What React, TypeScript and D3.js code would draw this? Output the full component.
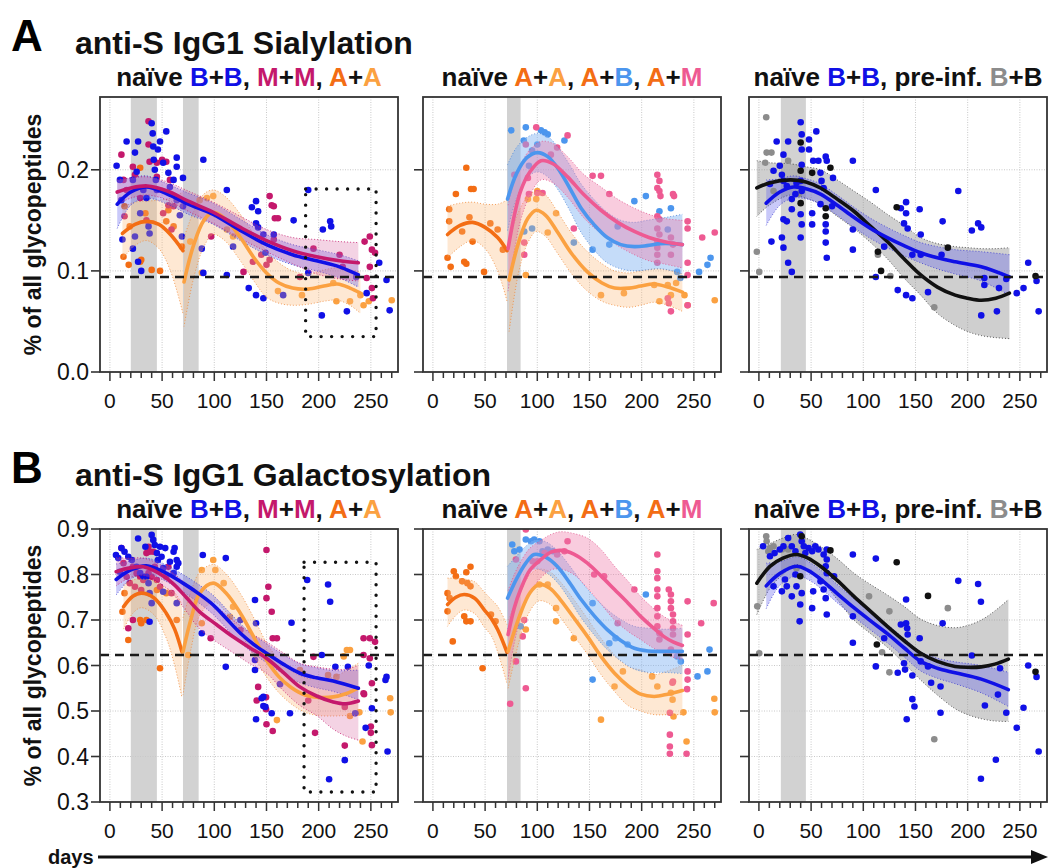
import React from "react";
import * as d3 from "d3";

const FONT = "'Liberation Sans', Arial, Helvetica, sans-serif";

// ---- colours ----
const K = "#111111";
const BLUE = "#1010e6";
const MAG = "#c4186c";
const ORD = "#f36d14";
const ORL = "#fba141";
const LBLUE = "#4c96ee";
const PINK = "#ee5a92";
const GRAY = "#8c8c8c";

// ---- axis ticks ----
const xTicksMajor = [0, 50, 100, 150, 200, 250];
const xTicksMinor = [0, 10, 20, 30, 40, 50, 60, 70, 80, 90, 100, 110, 120, 130, 140, 150, 160, 170, 180, 190, 200, 210, 220, 230, 240, 250, 260, 270];
const yTicksA = [0.0, 0.1, 0.2];
const yTicksB = [0.3, 0.4, 0.5, 0.6, 0.7, 0.8, 0.9];
const refA = 0.094;
const refB = 0.623;

// ---- fits: [day, fit, lower, upper] ----
const A1_BB_fit = [[7, 0.166, 0.142, 0.190], [20, 0.178, 0.165, 0.192], [35, 0.183, 0.172, 0.194], [55, 0.176, 0.166, 0.186], [75, 0.166, 0.156, 0.177], [99, 0.156, 0.146, 0.167], [125, 0.140, 0.130, 0.151], [150, 0.126, 0.116, 0.136], [175, 0.116, 0.106, 0.126], [198, 0.110, 0.100, 0.121], [220, 0.104, 0.093, 0.116], [238, 0.096, 0.084, 0.110]];
const A1_MM_fit = [[7, 0.178, 0.166, 0.190], [20, 0.182, 0.172, 0.192], [36, 0.184, 0.175, 0.193], [55, 0.179, 0.170, 0.188], [75, 0.169, 0.159, 0.179], [99, 0.158, 0.147, 0.168], [125, 0.143, 0.132, 0.154], [150, 0.130, 0.119, 0.141], [175, 0.120, 0.107, 0.133], [198, 0.114, 0.097, 0.131], [220, 0.110, 0.092, 0.129], [238, 0.108, 0.090, 0.128]];
const A1_AA1_fit = [[12, 0.137, 0.112, 0.163], [24, 0.146, 0.125, 0.168], [35, 0.149, 0.130, 0.169], [47, 0.146, 0.122, 0.170], [58, 0.136, 0.100, 0.172], [70, 0.120, 0.058, 0.178]];
const A1_AA2_fit = [[71, 0.089, 0.045, 0.133], [80, 0.125, 0.092, 0.158], [90, 0.150, 0.124, 0.176], [99, 0.158, 0.136, 0.180], [110, 0.152, 0.130, 0.174], [125, 0.133, 0.110, 0.156], [138, 0.113, 0.090, 0.136], [150, 0.098, 0.074, 0.120], [162, 0.088, 0.068, 0.108], [175, 0.083, 0.066, 0.100], [190, 0.082, 0.067, 0.097], [205, 0.085, 0.070, 0.101], [218, 0.087, 0.071, 0.103], [230, 0.083, 0.066, 0.101], [240, 0.078, 0.058, 0.099]];

const A2_AA1_fit = [[14, 0.136, 0.113, 0.164], [26, 0.145, 0.124, 0.167], [38, 0.148, 0.130, 0.168], [50, 0.143, 0.122, 0.166], [62, 0.133, 0.100, 0.166], [71, 0.120, 0.070, 0.170]];
const A2_AA2_fit = [[73, 0.091, 0.040, 0.130], [82, 0.128, 0.098, 0.158], [91, 0.152, 0.128, 0.174], [99, 0.160, 0.139, 0.179], [108, 0.155, 0.134, 0.175], [119, 0.139, 0.118, 0.159], [133, 0.117, 0.097, 0.137], [148, 0.099, 0.080, 0.119], [162, 0.088, 0.070, 0.107], [174, 0.083, 0.066, 0.100], [188, 0.083, 0.064, 0.098], [199, 0.085, 0.066, 0.100], [212, 0.087, 0.069, 0.102], [225, 0.084, 0.066, 0.101], [239, 0.079, 0.060, 0.097]];
const A2_AB_fit = [[71.5, 0.171, 0.140, 0.205], [80, 0.196, 0.172, 0.222], [90, 0.212, 0.192, 0.232], [100, 0.217, 0.198, 0.236], [110, 0.213, 0.193, 0.233], [120, 0.201, 0.180, 0.222], [131, 0.182, 0.160, 0.205], [142, 0.162, 0.138, 0.186], [155, 0.145, 0.120, 0.170], [167, 0.133, 0.108, 0.158], [180, 0.126, 0.102, 0.150], [193, 0.124, 0.100, 0.148], [205, 0.125, 0.101, 0.150], [218, 0.127, 0.102, 0.152], [229, 0.127, 0.100, 0.154], [239, 0.126, 0.097, 0.156]];
const A2_AM_fit = [[72, 0.122, 0.080, 0.165], [78, 0.155, 0.120, 0.190], [84, 0.179, 0.150, 0.205], [93, 0.198, 0.175, 0.220], [103.5, 0.209, 0.190, 0.228], [115, 0.206, 0.187, 0.226], [129, 0.193, 0.173, 0.213], [145, 0.175, 0.152, 0.195], [161, 0.160, 0.137, 0.183], [177, 0.148, 0.125, 0.171], [193, 0.139, 0.116, 0.162], [207, 0.133, 0.110, 0.156], [221, 0.129, 0.107, 0.152], [239, 0.126, 0.103, 0.150]];

const A3_BB_fit = [[7, 0.167, 0.145, 0.190], [20, 0.178, 0.165, 0.191], [33, 0.183, 0.172, 0.194], [46, 0.181, 0.171, 0.191], [59, 0.176, 0.166, 0.186], [75, 0.165, 0.155, 0.175], [91, 0.153, 0.143, 0.163], [107, 0.142, 0.132, 0.152], [123, 0.133, 0.123, 0.143], [139, 0.125, 0.115, 0.135], [155, 0.118, 0.108, 0.128], [171, 0.113, 0.102, 0.124], [188, 0.109, 0.097, 0.121], [213, 0.104, 0.090, 0.119], [240, 0.094, 0.076, 0.116]];
const A3_PRE_fit = [[-2, 0.182, 0.154, 0.209], [10, 0.187, 0.165, 0.207], [30, 0.190, 0.175, 0.206], [45, 0.188, 0.172, 0.203], [59, 0.182, 0.166, 0.200], [75, 0.171, 0.154, 0.190], [91, 0.159, 0.142, 0.179], [107, 0.144, 0.128, 0.168], [123, 0.129, 0.112, 0.156], [139, 0.112, 0.093, 0.145], [155, 0.096, 0.076, 0.133], [171, 0.084, 0.058, 0.127], [188, 0.076, 0.046, 0.124], [200, 0.073, 0.040, 0.123], [213, 0.071, 0.036, 0.122], [227, 0.073, 0.034, 0.122], [240, 0.078, 0.033, 0.123]];

const B1_BB_fit = [[6, 0.789, 0.755, 0.823], [20, 0.810, 0.790, 0.830], [35, 0.819, 0.802, 0.836], [52, 0.805, 0.787, 0.823], [70, 0.781, 0.762, 0.800], [85, 0.758, 0.738, 0.778], [99, 0.733, 0.712, 0.754], [112, 0.702, 0.681, 0.723], [125, 0.671, 0.650, 0.692], [138, 0.646, 0.626, 0.666], [150, 0.627, 0.606, 0.648], [166, 0.603, 0.582, 0.624], [182, 0.583, 0.562, 0.604], [198, 0.573, 0.551, 0.595], [214, 0.566, 0.543, 0.589], [238, 0.550, 0.525, 0.590]];
const B1_MM_fit = [[6, 0.806, 0.775, 0.837], [18, 0.814, 0.792, 0.836], [32, 0.817, 0.798, 0.836], [46, 0.804, 0.784, 0.824], [60, 0.781, 0.758, 0.804], [73, 0.750, 0.720, 0.780], [86, 0.718, 0.680, 0.760], [102, 0.690, 0.652, 0.730], [118, 0.663, 0.628, 0.700], [134, 0.639, 0.604, 0.672], [150, 0.616, 0.583, 0.652], [166, 0.585, 0.545, 0.628], [182, 0.553, 0.512, 0.605], [198, 0.533, 0.490, 0.597], [214, 0.520, 0.460, 0.592], [226, 0.516, 0.445, 0.592], [238, 0.522, 0.436, 0.600]];
const B1_AA1_fit = [[13, 0.729, 0.680, 0.778], [22, 0.752, 0.715, 0.788], [30, 0.759, 0.727, 0.790], [42, 0.749, 0.712, 0.786], [54, 0.715, 0.660, 0.770], [62, 0.680, 0.600, 0.760], [69, 0.630, 0.530, 0.735]];
const B1_AA2_fit = [[70, 0.630, 0.535, 0.705], [78, 0.705, 0.640, 0.765], [86, 0.759, 0.710, 0.805], [99, 0.781, 0.740, 0.822], [111, 0.760, 0.718, 0.802], [125, 0.715, 0.672, 0.758], [138, 0.662, 0.620, 0.704], [150, 0.612, 0.575, 0.650], [162, 0.575, 0.540, 0.612], [174, 0.551, 0.515, 0.588], [187, 0.535, 0.497, 0.573], [200, 0.530, 0.490, 0.570], [214, 0.531, 0.489, 0.574], [226, 0.538, 0.490, 0.588], [238, 0.550, 0.490, 0.605]];

const B2_AA1_fit = [[14, 0.734, 0.686, 0.792], [22, 0.750, 0.710, 0.792], [30, 0.756, 0.722, 0.790], [40, 0.748, 0.714, 0.784], [49, 0.723, 0.685, 0.762], [56, 0.703, 0.665, 0.745], [62, 0.679, 0.630, 0.730], [71, 0.629, 0.560, 0.690]];
const B2_AA2_fit = [[72, 0.631, 0.550, 0.700], [84, 0.715, 0.665, 0.762], [93, 0.760, 0.720, 0.800], [101.5, 0.778, 0.742, 0.812], [112, 0.770, 0.735, 0.806], [122, 0.745, 0.706, 0.784], [135, 0.705, 0.665, 0.745], [148, 0.664, 0.625, 0.703], [161, 0.620, 0.580, 0.660], [174, 0.583, 0.543, 0.623], [187, 0.555, 0.512, 0.598], [199, 0.537, 0.500, 0.590], [212, 0.532, 0.492, 0.580], [225, 0.537, 0.492, 0.588], [239, 0.545, 0.492, 0.600]];
const B2_AB_fit = [[71.5, 0.748, 0.680, 0.818], [80, 0.790, 0.740, 0.840], [89, 0.825, 0.790, 0.862], [97, 0.844, 0.812, 0.876], [108, 0.838, 0.805, 0.872], [119, 0.818, 0.783, 0.853], [130, 0.785, 0.748, 0.822], [142, 0.745, 0.705, 0.785], [155, 0.708, 0.666, 0.750], [167, 0.679, 0.635, 0.723], [180, 0.655, 0.610, 0.701], [193, 0.638, 0.592, 0.686], [206, 0.632, 0.585, 0.682], [218, 0.631, 0.585, 0.680], [229, 0.631, 0.584, 0.680], [239, 0.631, 0.582, 0.682]];
const B2_AM_fit = [[72, 0.668, 0.570, 0.765], [78, 0.727, 0.650, 0.800], [84, 0.767, 0.705, 0.828], [93, 0.810, 0.760, 0.858], [103.5, 0.833, 0.793, 0.875], [113, 0.849, 0.810, 0.888], [122.6, 0.853, 0.812, 0.894], [135, 0.845, 0.800, 0.890], [148, 0.825, 0.770, 0.880], [161, 0.797, 0.735, 0.855], [174, 0.767, 0.700, 0.818], [187, 0.737, 0.675, 0.785], [199, 0.708, 0.657, 0.752], [210, 0.685, 0.640, 0.728], [221, 0.664, 0.627, 0.708], [230, 0.652, 0.618, 0.697], [239, 0.644, 0.613, 0.688]];

const B3_BB_fit = [[7, 0.775, 0.725, 0.825], [20, 0.802, 0.776, 0.828], [36, 0.818, 0.797, 0.839], [47, 0.809, 0.789, 0.829], [59, 0.790, 0.770, 0.810], [75, 0.758, 0.738, 0.778], [91, 0.727, 0.707, 0.747], [107, 0.698, 0.678, 0.718], [123, 0.670, 0.650, 0.690], [139, 0.639, 0.619, 0.660], [155, 0.609, 0.588, 0.630], [171, 0.594, 0.572, 0.616], [188, 0.584, 0.560, 0.608], [213, 0.570, 0.540, 0.600], [239, 0.547, 0.510, 0.585]];
const B3_PRE_fit = [[-2, 0.781, 0.712, 0.855], [10.6, 0.818, 0.770, 0.868], [23, 0.836, 0.800, 0.880], [36, 0.844, 0.822, 0.888], [47, 0.836, 0.808, 0.878], [59, 0.818, 0.789, 0.862], [75, 0.787, 0.745, 0.835], [91, 0.752, 0.700, 0.803], [107, 0.719, 0.670, 0.778], [123, 0.686, 0.640, 0.755], [139, 0.655, 0.605, 0.730], [155, 0.627, 0.568, 0.702], [171, 0.609, 0.535, 0.688], [188, 0.598, 0.505, 0.683], [200, 0.596, 0.492, 0.688], [213, 0.597, 0.483, 0.700], [226, 0.603, 0.478, 0.720], [239, 0.614, 0.477, 0.745]];

// ---- points: [day, value] ----
const A1_BB_pts = [[6.4, 0.204], [16, 0.228], [9.6, 0.190], [11, 0.170], [12, 0.131], [24, 0.217], [25.6, 0.198], [22, 0.190], [27, 0.228], [32, 0.180], [29, 0.157], [24, 0.134], [22, 0.122], [27, 0.109], [30, 0.100], [35, 0.172], [37, 0.144], [38, 0.137], [40, 0.246], [41, 0.236], [41.5, 0.223], [42, 0.210], [43, 0.200], [44, 0.190], [45, 0.180], [46, 0.220], [48, 0.228], [51, 0.207], [54, 0.238], [56, 0.197], [57.5, 0.183], [61, 0.190], [64, 0.212], [64, 0.203], [64, 0.170], [67, 0.155], [69, 0.134], [70, 0.192], [70, 0.164], [89.5, 0.210], [88, 0.122], [89.5, 0.098], [112, 0.180], [112, 0.096], [118, 0.124], [136, 0.163], [140, 0.169], [140, 0.147], [142, 0.143], [142, 0.159], [147, 0.136], [133, 0.083], [140, 0.076], [147, 0.073], [157, 0.136], [149, 0.118], [176, 0.150], [166, 0.076], [190, 0.180], [190, 0.098], [204, 0.141], [211, 0.149], [212, 0.144], [203, 0.056], [227, 0.060], [246, 0.078], [258, 0.108], [265, 0.091], [268, 0.061], [236, 0.094]];
const A1_MM_pts = [[11, 0.215], [13, 0.190], [14, 0.154], [16, 0.180], [22, 0.203], [24, 0.195], [29, 0.172], [37, 0.248], [37, 0.225], [38, 0.208], [45, 0.207], [45, 0.193], [50, 0.210], [51, 0.208], [54, 0.208], [57.5, 0.190], [56, 0.165], [61, 0.164], [59, 0.141], [51, 0.157], [35, 0.150], [97, 0.134], [128, 0.099], [137, 0.109], [145, 0.116], [153, 0.174], [155, 0.165], [157, 0.164], [158, 0.152], [161, 0.152], [157, 0.131], [153, 0.111], [150, 0.106], [182, 0.094], [195, 0.122], [220, 0.116], [223, 0.104], [244, 0.129], [249, 0.134], [251, 0.121], [254, 0.118], [249, 0.104], [246, 0.093], [251, 0.083], [252, 0.073]];
const A1_AA1_pts = [[13, 0.114], [18, 0.106], [14, 0.164], [19, 0.144], [29, 0.109], [30, 0.111], [34, 0.157], [40, 0.101], [29, 0.202], [54, 0.149], [61, 0.144], [69, 0.124], [56, 0.160], [48, 0.100]];
const A1_AA2_pts = [[77, 0.129], [88, 0.098], [93, 0.172], [99, 0.174], [86, 0.170], [112, 0.141], [118, 0.134], [161, 0.080], [184, 0.076], [217, 0.070], [230, 0.070], [243, 0.066], [248, 0.070], [270, 0.071], [214, 0.088], [240, 0.076]];

const A2_AA1_pts = [[14, 0.113], [17, 0.104], [15.6, 0.161], [15.6, 0.149], [22, 0.176], [28, 0.139], [30, 0.109], [32, 0.107], [32, 0.202], [35, 0.153], [36.5, 0.181], [39, 0.181], [38, 0.129], [49, 0.099], [55, 0.147], [62, 0.141], [67, 0.121]];
const A2_AA2_pts = [[89, 0.096], [91, 0.171], [99, 0.171], [100, 0.179], [110, 0.138], [118, 0.157], [161, 0.076], [183, 0.078], [212, 0.086], [217, 0.070], [225, 0.086], [228, 0.076], [233, 0.088], [241, 0.076], [244, 0.066], [270, 0.071]];
const A2_AB_pts = [[75, 0.239], [89, 0.242], [87, 0.229], [92, 0.204], [95, 0.219], [103.5, 0.239], [107, 0.237], [110, 0.235], [100, 0.225], [87.5, 0.139], [95, 0.142], [126, 0.229], [135, 0.128], [153, 0.121], [169, 0.126], [177, 0.144], [193, 0.169], [204, 0.174], [217, 0.159], [225, 0.141], [228, 0.162], [237, 0.093], [234, 0.099], [255, 0.099], [263, 0.106], [266, 0.113]];
const A2_AM_pts = [[78, 0.195], [87.5, 0.128], [87.5, 0.116], [89, 0.225], [91, 0.192], [92, 0.176], [99, 0.242], [100, 0.177], [105, 0.177], [113, 0.215], [119, 0.222], [129, 0.234], [135, 0.142], [153, 0.194], [161, 0.194], [169, 0.176], [215, 0.195], [217, 0.189], [215, 0.182], [217, 0.179], [215, 0.154], [217, 0.151], [215, 0.142], [217, 0.136], [215, 0.129], [215, 0.123], [215, 0.116], [215, 0.108], [218, 0.174], [225, 0.073], [228, 0.060], [226, 0.068], [230, 0.176], [231, 0.174], [228, 0.133], [230, 0.126], [228, 0.116], [244, 0.149], [244, 0.142], [244, 0.108], [244, 0.096], [244, 0.066], [258, 0.133], [270, 0.138]];

const A3_BB_pts = [[17, 0.228], [28, 0.228], [23.5, 0.215], [20, 0.204], [22, 0.195], [23.5, 0.189], [26.7, 0.184], [31.5, 0.171], [23.5, 0.151], [26.7, 0.149], [22, 0.133], [23.5, 0.123], [28, 0.108], [31.5, 0.099], [12, 0.129], [10.6, 0.186], [14, 0.199], [35, 0.176], [31.5, 0.161], [36, 0.187], [40, 0.247], [41, 0.235], [41, 0.220], [41, 0.205], [40, 0.189], [41, 0.179], [40, 0.156], [41, 0.146], [40, 0.133], [48, 0.230], [48, 0.220], [55, 0.238], [52, 0.209], [57, 0.209], [59, 0.197], [51, 0.157], [51, 0.146], [60, 0.189], [62, 0.182], [64, 0.213], [65, 0.209], [64, 0.146], [64, 0.139], [64, 0.128], [65, 0.113], [71, 0.192], [70, 0.164], [59, 0.166], [90, 0.209], [90, 0.141], [90, 0.121], [112, 0.180], [112, 0.094], [120, 0.124], [133, 0.081], [136, 0.162], [141, 0.168], [141, 0.157], [139, 0.147], [142.5, 0.142], [141, 0.076], [147, 0.073], [147, 0.116], [154, 0.161], [155, 0.136], [155, 0.116], [162, 0.079], [176, 0.149], [175, 0.116], [191, 0.179], [204, 0.140], [210, 0.147], [213, 0.143], [213, 0.056], [216, 0.093], [216, 0.086], [228, 0.060], [230, 0.083], [237, 0.092], [247, 0.078], [253.5, 0.083], [258, 0.108], [266, 0.090], [268, 0.060]];
const A3_PREG_pts = [[7, 0.252], [7.4, 0.217], [12, 0.217], [6, 0.207], [14, 0.179], [28, 0.209], [-2, 0.119], [0.3, 0.099], [38, 0.176], [114, 0.116], [126, 0.095], [168, 0.064]];
const A3_PREK_pts = [[40, 0.227], [40, 0.199], [40, 0.167], [51, 0.197], [68.5, 0.202], [64, 0.162], [64, 0.154], [132, 0.163], [114, 0.119], [117, 0.100], [181, 0.123], [265, 0.095]];

const B1_BB_pts = [[5.8, 0.843], [8, 0.836], [9.6, 0.806], [11, 0.858], [14, 0.850], [17.6, 0.839], [21, 0.832], [27, 0.879], [25.6, 0.817], [29, 0.803], [32, 0.795], [34, 0.861], [35, 0.795], [37, 0.781], [38, 0.759], [38, 0.696], [40, 0.887], [41.5, 0.876], [43, 0.865], [45, 0.847], [46, 0.832], [48, 0.861], [49.5, 0.839], [51, 0.814], [53, 0.858], [57.5, 0.828], [61, 0.850], [62, 0.858], [64, 0.832], [64, 0.817], [65.5, 0.825], [61, 0.803], [64, 0.737], [51, 0.762], [40, 0.737], [89, 0.843], [88, 0.671], [111, 0.836], [111, 0.597], [125, 0.700], [139, 0.744], [140, 0.693], [139, 0.612], [139, 0.590], [140, 0.482], [147, 0.531], [149, 0.509], [155, 0.495], [174, 0.694], [172.5, 0.495], [189, 0.788], [203, 0.623], [209, 0.778], [211, 0.740], [163, 0.559], [145.4, 0.528], [147, 0.511], [225, 0.392], [210, 0.350], [235, 0.495], [251, 0.506], [245, 0.463], [266, 0.411], [264, 0.568], [216, 0.597], [228, 0.597], [248, 0.600], [265, 0.575]];
const B1_MM_pts = [[11, 0.858], [13, 0.825], [16, 0.795], [19, 0.781], [22, 0.817], [24, 0.773], [25.6, 0.803], [29, 0.795], [30, 0.766], [32, 0.788], [35, 0.847], [37, 0.861], [38, 0.850], [41.5, 0.850], [43, 0.817], [40, 0.795], [45, 0.788], [48, 0.773], [54, 0.795], [59, 0.759], [56, 0.817], [17.6, 0.682], [22, 0.700], [37, 0.803], [96.5, 0.660], [125, 0.678], [150, 0.854], [151.8, 0.773], [150, 0.748], [155, 0.718], [156, 0.660], [160, 0.660], [142, 0.553], [149.6, 0.530], [140.6, 0.523], [149.6, 0.504], [150, 0.471], [156, 0.456], [190, 0.523], [196.5, 0.452], [225, 0.424], [243.5, 0.537], [251, 0.561], [250, 0.466], [250, 0.452], [251, 0.425], [195, 0.619], [243, 0.660], [249, 0.660], [254, 0.652], [243, 0.623], [249, 0.616], [225, 0.509], [243, 0.539]];
const B1_AA1_pts = [[12, 0.718], [17.6, 0.656], [14, 0.759], [29, 0.700], [30, 0.693], [35, 0.700], [48, 0.594], [45, 0.766], [54, 0.759], [64, 0.700]];
const B1_AA2_pts = [[75, 0.623], [88, 0.693], [88, 0.810], [99, 0.832], [101, 0.810], [109, 0.781], [118, 0.729], [115, 0.707], [160, 0.480], [230, 0.489], [239, 0.497], [242, 0.433], [268.5, 0.528], [269, 0.497], [224, 0.620], [227, 0.634], [230, 0.634], [209, 0.579], [217, 0.575], [182, 0.590]];

const B2_AA1_pts = [[20, 0.807], [22, 0.796], [32, 0.805], [36, 0.817], [28, 0.785], [33, 0.781], [36, 0.774], [14, 0.759], [16, 0.748], [14, 0.719], [30, 0.708], [32, 0.697], [36, 0.697], [19, 0.653], [47.6, 0.594], [55.6, 0.712], [60, 0.697]];
const B2_AA2_pts = [[89, 0.679], [102, 0.778], [110, 0.778], [118, 0.726], [118, 0.697], [135, 0.660], [161, 0.481], [174, 0.554], [182, 0.587], [210, 0.576], [215, 0.554], [228, 0.540], [229.6, 0.525], [230.5, 0.488], [240, 0.497], [243, 0.433], [269.6, 0.527], [270, 0.497]];
const B2_AB_pts = [[76, 0.866], [78, 0.851], [83, 0.855], [89, 0.877], [94, 0.873], [97, 0.877], [102, 0.873], [105, 0.851], [110, 0.855], [115, 0.851], [84, 0.686], [153, 0.737], [169, 0.649], [175, 0.660], [186.5, 0.646], [204, 0.756], [153, 0.569], [234, 0.620], [237.5, 0.609], [253.5, 0.576], [263, 0.587], [265, 0.635]];
const B2_AM_pts = [[89, 0.899], [79.5, 0.833], [86, 0.664], [74, 0.516], [79.5, 0.609], [89, 0.550], [87.5, 0.700], [95.5, 0.829], [100, 0.829], [107, 0.847], [119, 0.844], [126, 0.851], [129, 0.873], [154.5, 0.800], [164, 0.796], [193, 0.767], [177, 0.693], [215, 0.844], [215, 0.807], [215, 0.792], [215, 0.767], [215, 0.752], [215, 0.726], [215, 0.708], [215, 0.686], [217, 0.671], [217, 0.657], [226, 0.767], [228, 0.756], [228, 0.741], [228, 0.726], [230, 0.712], [230, 0.697], [230, 0.682], [230, 0.668], [228, 0.635], [230, 0.565], [244, 0.741], [244, 0.668], [244, 0.587], [244, 0.569], [257, 0.693], [269, 0.737], [227, 0.496], [227, 0.448], [227, 0.422], [227, 0.406], [243, 0.406], [243.5, 0.548], [229.5, 0.562]];

const B3_BB_pts = [[4, 0.862], [10.6, 0.840], [15, 0.847], [20, 0.855], [23.5, 0.862], [28, 0.880], [31.5, 0.862], [35, 0.851], [39.6, 0.888], [41, 0.873], [43, 0.862], [44.5, 0.847], [47.6, 0.858], [51, 0.851], [54, 0.862], [57, 0.855], [62, 0.844], [65, 0.855], [65, 0.833], [64, 0.818], [65, 0.803], [14, 0.774], [22, 0.763], [26.7, 0.774], [31.5, 0.752], [36, 0.774], [41, 0.759], [39.6, 0.734], [39, 0.697], [52, 0.763], [51, 0.726], [64, 0.748], [62, 0.767], [65, 0.712], [72, 0.796], [59, 0.785], [25, 0.789], [35, 0.800], [90, 0.844], [90, 0.708], [90, 0.650], [112, 0.835], [112, 0.598], [120, 0.660], [133, 0.584], [136, 0.690], [141, 0.745], [141, 0.693], [142, 0.682], [142.5, 0.668], [139, 0.605], [140, 0.591], [147, 0.578], [154, 0.660], [155, 0.609], [162, 0.598], [165, 0.562], [174, 0.554], [176, 0.693], [191, 0.786], [204, 0.622], [210, 0.779], [212.7, 0.740], [216.5, 0.512], [229, 0.536], [231, 0.594], [237, 0.496], [247, 0.463], [253.5, 0.507], [258, 0.600], [266, 0.575], [268, 0.411], [212.7, 0.351], [227, 0.393], [141.6, 0.482], [147, 0.526], [149, 0.510], [174, 0.496]];
const B3_PREG_pts = [[7, 0.884], [7.4, 0.873], [9, 0.851], [14, 0.862], [10.6, 0.858], [22, 0.855], [28, 0.855], [-1.6, 0.730], [0.3, 0.627], [36, 0.814], [105.5, 0.752], [125, 0.719], [181, 0.726], [118, 0.629], [125, 0.585], [168, 0.438]];
const B3_PREK_pts = [[41, 0.884], [39.6, 0.796], [68.5, 0.853], [132, 0.827], [162, 0.753], [113, 0.646], [265, 0.586]];

// ---- subtitles ----
const sub1 = [["naïve ", K], ["B", BLUE], ["+", K], ["B", BLUE], [", ", K], ["M", MAG], ["+", K], ["M", MAG], [", ", K], ["A", ORD], ["+", K], ["A", ORL]];
const sub2 = [["naïve ", K], ["A", ORD], ["+", K], ["A", ORL], [", ", K], ["A", ORD], ["+", K], ["B", LBLUE], [", ", K], ["A", ORD], ["+", K], ["M", PINK]];
const sub3 = [["naïve ", K], ["B", BLUE], ["+", K], ["B", BLUE], [", pre-inf. ", K], ["B", GRAY], ["+B", K]];

// band styles
const BAND = {
  blue: { fill: "#5a5aee", op: 0.33, edge: "#3a3ad0" },
  mag: { fill: "#d8609e", op: 0.28, edge: "#c4186c" },
  org: { fill: "#fbb677", op: 0.32, edge: "#f08a3a" },
  lblue: { fill: "#7fb2f2", op: 0.45, edge: "#4c86d8" },
  pink: { fill: "#f07aa8", op: 0.38, edge: "#e0508a" },
  gray: { fill: "#8c8c8c", op: 0.42, edge: "#333333" },
};

type Fit = { rows: number[][]; color: string; band: { fill: string; op: number; edge: string } };
type Pts = { pts: number[][]; color: string };

const COLS = [100, 423, 749];
const PW = 298;
const XDOM = [-9.5, 276];

type PanelCfg = {
  left: number;
  top: number;
  bottom: number;
  yDom: number[];
  yTicks: number[];
  yLabels: boolean;
  ref: number;
  grayBands: number[][];
  rect?: number[];
  points: Pts[];
  fits: Fit[];
  bandsUnder: boolean;
  sub: string[][];
};

function Panel({ c }: { c: PanelCfg }) {
  const x = d3.scaleLinear().domain(XDOM).range([c.left, c.left + PW]);
  const y = d3.scaleLinear().domain(c.yDom).range([c.bottom, c.top]);
  const curve = d3.curveCatmullRom.alpha(0.5);
  const line = (k: number) =>
    d3.line<number[]>().x((d) => x(d[0])).y((d) => y(d[k])).curve(curve);
  const area = d3
    .area<number[]>()
    .x((d) => x(d[0]))
    .y0((d) => y(d[2]))
    .y1((d) => y(d[3]))
    .curve(curve);
  const clipId = `clip-${c.left}-${c.top}`;

  const bands = c.fits.map((f, i) => (
    <g key={"b" + i}>
      <path d={area(f.rows) || ""} fill={f.band.fill} fillOpacity={f.band.op} stroke="none" />
      <path d={line(2)(f.rows) || ""} fill="none" stroke={f.band.edge} strokeWidth={1} strokeDasharray="1,2" opacity={0.8} />
      <path d={line(3)(f.rows) || ""} fill="none" stroke={f.band.edge} strokeWidth={1} strokeDasharray="1,2" opacity={0.8} />
    </g>
  ));
  const pts = c.points.map((s, i) => (
    <g key={"p" + i} fill={s.color}>
      {s.pts.map((p, j) => (
        <circle key={j} cx={x(p[0])} cy={y(p[1])} r={3.3} />
      ))}
    </g>
  ));

  const cx = c.left + PW / 2;
  return (
    <g>
      <defs>
        <clipPath id={clipId}>
          <rect x={c.left} y={c.top} width={PW} height={c.bottom - c.top} />
        </clipPath>
      </defs>
      <text x={cx} y={c.top - 11} textAnchor="middle" fontFamily={FONT} fontWeight="bold" fontSize={26} style={{ whiteSpace: "pre" }}>
        {c.sub.map((s, i) => (
          <tspan key={i} fill={s[1]}>{s[0]}</tspan>
        ))}
      </text>
      <g clipPath={`url(#${clipId})`}>
        {c.grayBands.map((b, i) => (
          <rect key={i} x={x(b[0])} y={c.top} width={x(b[1]) - x(b[0])} height={c.bottom - c.top} fill="#d2d2d2" />
        ))}
        {xTicksMajor.map((t) => (
          <line key={"gx" + t} x1={x(t)} x2={x(t)} y1={c.top} y2={c.bottom} stroke="#c8c8c8" strokeWidth={1} strokeDasharray="1,1.5" />
        ))}
        {c.yTicks.map((t) => (
          <line key={"gy" + t} x1={c.left} x2={c.left + PW} y1={y(t)} y2={y(t)} stroke="#c8c8c8" strokeWidth={1} strokeDasharray="1,1.5" />
        ))}
        {c.bandsUnder ? bands : null}
        {pts}
        {c.bandsUnder ? null : bands}
        {c.fits.map((f, i) => (
          <path key={"l" + i} d={line(1)(f.rows) || ""} fill="none" stroke={f.color} strokeWidth={3.6} strokeLinecap="round" />
        ))}
        <line x1={c.left} x2={c.left + PW} y1={y(c.ref)} y2={y(c.ref)} stroke="#1a1a1a" strokeWidth={2.6} strokeDasharray="9,6" />
        {c.rect ? (
          <rect
            x={x(c.rect[0])}
            y={y(c.rect[3])}
            width={x(c.rect[1]) - x(c.rect[0])}
            height={y(c.rect[2]) - y(c.rect[3])}
            fill="none"
            stroke="#111"
            strokeWidth={3.4}
            strokeDasharray="0,10.5"
            strokeLinecap="round"
          />
        ) : null}
      </g>
      <rect x={c.left} y={c.top} width={PW} height={c.bottom - c.top} fill="none" stroke="#333" strokeWidth={1.8} />
      {xTicksMinor.map((t) => (
        <line key={"tx" + t} x1={x(t)} x2={x(t)} y1={c.bottom} y2={c.bottom + (t % 50 === 0 ? 9 : 6)} stroke="#333" strokeWidth={1.5} />
      ))}
      {xTicksMajor.map((t) => (
        <text key={"lx" + t} x={x(t)} y={c.bottom + 36} textAnchor="middle" fontFamily={FONT} fontSize={21} fill="#111">
          {t}
        </text>
      ))}
      {c.yTicks.map((t) => (
        <line key={"ty" + t} x1={c.left - 9} x2={c.left} y1={y(t)} y2={y(t)} stroke="#333" strokeWidth={1.6} />
      ))}
      {c.yLabels
        ? c.yTicks.map((t) => (
            <text key={"ly" + t} x={c.left - 11} y={y(t) + 8} textAnchor="end" fontFamily={FONT} fontSize={23} fill="#111">
              {d3.format(".1f")(t)}
            </text>
          ))
        : null}
    </g>
  );
}

const TOP_A = 97, BOT_A = 372, TOP_B = 529, BOT_B = 802;

const panels: PanelCfg[] = [
  {
    left: COLS[0], top: TOP_A, bottom: BOT_A, yDom: [0, 0.272], yTicks: yTicksA, yLabels: true, ref: refA,
    grayBands: [[20, 45], [70, 85]], rect: [187.5, 255, 0.035, 0.181], bandsUnder: false, sub: sub1,
    points: [{ pts: A1_AA1_pts, color: ORD }, { pts: A1_AA2_pts, color: ORL }, { pts: A1_MM_pts, color: MAG }, { pts: A1_BB_pts, color: BLUE }],
    fits: [
      { rows: A1_AA1_fit, color: ORD, band: BAND.org },
      { rows: A1_AA2_fit, color: ORL, band: BAND.org },
      { rows: A1_BB_fit, color: BLUE, band: BAND.blue },
      { rows: A1_MM_fit, color: MAG, band: BAND.mag },
    ],
  },
  {
    left: COLS[1], top: TOP_A, bottom: BOT_A, yDom: [0, 0.272], yTicks: yTicksA, yLabels: false, ref: refA,
    grayBands: [[71, 84]], bandsUnder: false, sub: sub2,
    points: [{ pts: A2_AA1_pts, color: ORD }, { pts: A2_AA2_pts, color: ORL }, { pts: A2_AB_pts, color: LBLUE }, { pts: A2_AM_pts, color: PINK }],
    fits: [
      { rows: A2_AA1_fit, color: ORD, band: BAND.org },
      { rows: A2_AA2_fit, color: ORL, band: BAND.org },
      { rows: A2_AB_fit, color: LBLUE, band: BAND.lblue },
      { rows: A2_AM_fit, color: PINK, band: BAND.pink },
    ],
  },
  {
    left: COLS[2], top: TOP_A, bottom: BOT_A, yDom: [0, 0.272], yTicks: yTicksA, yLabels: false, ref: refA,
    grayBands: [[21, 45]], bandsUnder: true, sub: sub3,
    points: [{ pts: A3_PREG_pts, color: GRAY }, { pts: A3_BB_pts, color: BLUE }, { pts: A3_PREK_pts, color: K }],
    fits: [
      { rows: A3_PRE_fit, color: K, band: BAND.gray },
      { rows: A3_BB_fit, color: BLUE, band: BAND.blue },
    ],
  },
  {
    left: COLS[0], top: TOP_B, bottom: BOT_B, yDom: [0.3, 0.9], yTicks: yTicksB, yLabels: true, ref: refB,
    grayBands: [[20, 45], [70, 85]], rect: [186, 255, 0.322, 0.827], bandsUnder: false, sub: sub1,
    points: [{ pts: B1_AA1_pts, color: ORD }, { pts: B1_AA2_pts, color: ORL }, { pts: B1_MM_pts, color: MAG }, { pts: B1_BB_pts, color: BLUE }],
    fits: [
      { rows: B1_AA1_fit, color: ORD, band: BAND.org },
      { rows: B1_AA2_fit, color: ORL, band: BAND.org },
      { rows: B1_BB_fit, color: BLUE, band: BAND.blue },
      { rows: B1_MM_fit, color: MAG, band: BAND.mag },
    ],
  },
  {
    left: COLS[1], top: TOP_B, bottom: BOT_B, yDom: [0.3, 0.9], yTicks: yTicksB, yLabels: false, ref: refB,
    grayBands: [[71, 84]], bandsUnder: false, sub: sub2,
    points: [{ pts: B2_AA1_pts, color: ORD }, { pts: B2_AA2_pts, color: ORL }, { pts: B2_AB_pts, color: LBLUE }, { pts: B2_AM_pts, color: PINK }],
    fits: [
      { rows: B2_AA1_fit, color: ORD, band: BAND.org },
      { rows: B2_AA2_fit, color: ORL, band: BAND.org },
      { rows: B2_AB_fit, color: LBLUE, band: BAND.lblue },
      { rows: B2_AM_fit, color: PINK, band: BAND.pink },
    ],
  },
  {
    left: COLS[2], top: TOP_B, bottom: BOT_B, yDom: [0.3, 0.9], yTicks: yTicksB, yLabels: false, ref: refB,
    grayBands: [[21, 45]], bandsUnder: true, sub: sub3,
    points: [{ pts: B3_PREG_pts, color: GRAY }, { pts: B3_BB_pts, color: BLUE }, { pts: B3_PREK_pts, color: K }],
    fits: [
      { rows: B3_PRE_fit, color: K, band: BAND.gray },
      { rows: B3_BB_fit, color: BLUE, band: BAND.blue },
    ],
  },
];

export default function App() {
  return (
    <svg width={1050} height={868} style={{ position: "absolute", left: 0, top: 0, background: "#fff" }} fontFamily={FONT}>
      <rect x={0} y={0} width={1050} height={868} fill="#fff" />
      {/* row A headings */}
      <text x={11} y={51} fontSize={44} fontWeight="bold" fill="#000">A</text>
      <text x={75} y={54} fontSize={32} fontWeight="bold" fill="#111">anti-S IgG1 Sialylation</text>
      <text x={11} y={483} fontSize={44} fontWeight="bold" fill="#000">B</text>
      <text x={75} y={486} fontSize={32} fontWeight="bold" fill="#111">anti-S IgG1 Galactosylation</text>
      {/* y-axis titles */}
      <text transform={`translate(41,${(TOP_A + BOT_A) / 2}) rotate(-90)`} textAnchor="middle" fontSize={23} fontWeight="bold" fill="#111">
        % of all glycopeptides
      </text>
      <text transform={`translate(41,${(TOP_B + BOT_B) / 2}) rotate(-90)`} textAnchor="middle" fontSize={23} fontWeight="bold" fill="#111">
        % of all glycopeptides
      </text>
      {panels.map((p, i) => (
        <Panel key={i} c={p} />
      ))}
      {/* days arrow */}
      <text x={48} y={864} fontSize={20} fontWeight="bold" fill="#111">days</text>
      <line x1={98} x2={1034} y1={857} y2={857} stroke="#111" strokeWidth={3} />
      <polygon points="1031,850 1048,857 1031,864" fill="#111" />
    </svg>
  );
}
